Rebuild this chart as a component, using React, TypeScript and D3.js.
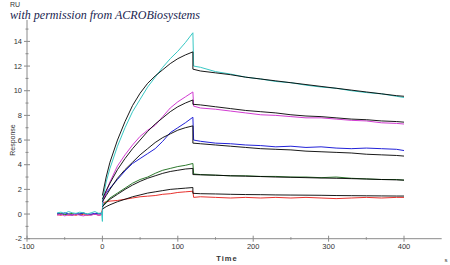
import React from "react";
import * as d3 from "d3";

const W = 450;
const H = 265;

// Time grids (s)
const baseTimes = [-60, -55, -50, -45, -40, -35, -30, -25, -20, -15, -10, -5, -1, 0];
const assocTimes = [0.5, 5, 10, 20, 30, 40, 50, 60, 70, 80, 90, 100, 110, 120];
const dissocTimes = [121, 130, 150, 170, 190, 210, 230, 250, 270, 290, 310, 330, 350, 370, 390, 400];

// Raw sensorgram values (RU)
const cyanBase = [0.1, 0.15, 0.05, 0.2, 0.1, 0.05, 0.15, 0.1, 0.0, 0.1, 0.2, 0.05, 0.1, -0.6];
const cyanAssoc = [1.2, 2.6, 3.7, 5.5, 7.0, 8.3, 9.3, 10.3, 11.1, 11.9, 12.6, 13.2, 13.9, 14.7];
const cyanDissoc = [12.0, 11.9, 11.55, 11.35, 11.1, 10.95, 10.75, 10.65, 10.45, 10.3, 10.2, 10.0, 9.85, 9.75, 9.55, 9.45];

const magentaBase = [-0.1, 0.0, -0.15, -0.05, -0.1, 0.0, -0.1, -0.15, -0.05, -0.1, 0.0, -0.1, -0.05, 0.2];
const magentaAssoc = [1.0, 1.8, 2.6, 3.9, 4.8, 5.6, 6.3, 6.8, 7.2, 7.9, 8.6, 9.1, 9.5, 9.9];
const magentaDissoc = [8.75, 8.6, 8.5, 8.35, 8.2, 8.05, 8.0, 7.9, 7.8, 7.8, 7.7, 7.6, 7.55, 7.4, 7.35, 7.3];

const blueBase = [0.05, -0.05, 0.1, 0.0, -0.1, 0.05, 0.0, 0.1, -0.05, 0.0, 0.05, 0.0, 0.05, 0.1];
const blueAssoc = [1.1, 1.7, 2.1, 2.8, 3.5, 4.1, 4.5, 4.9, 5.3, 5.9, 6.6, 7.0, 7.4, 7.85];
const blueDissoc = [6.0, 5.9, 5.75, 5.7, 5.6, 5.55, 5.45, 5.5, 5.4, 5.45, 5.35, 5.3, 5.35, 5.3, 5.25, 5.15];

const greenBase = [0.0, 0.05, -0.05, 0.0, 0.05, -0.05, 0.0, 0.05, 0.0, -0.05, 0.0, 0.05, 0.0, 0.3];
const greenAssoc = [0.7, 1.0, 1.3, 1.7, 2.1, 2.5, 2.8, 3.0, 3.3, 3.55, 3.7, 3.85, 3.95, 4.1];
const greenDissoc = [3.25, 3.2, 3.15, 3.1, 3.1, 3.05, 3.05, 3.0, 3.0, 2.95, 3.0, 2.9, 2.85, 2.8, 2.8, 2.75];

const redBase = [-0.05, -0.1, 0.0, -0.1, -0.05, -0.1, 0.0, -0.05, -0.1, -0.05, 0.0, -0.1, -0.05, 0.4];
const redAssoc = [0.9, 1.0, 1.05, 1.1, 1.2, 1.3, 1.4, 1.45, 1.5, 1.6, 1.65, 1.75, 1.8, 1.85];
const redDissoc = [1.35, 1.4, 1.35, 1.3, 1.35, 1.3, 1.35, 1.3, 1.35, 1.3, 1.25, 1.3, 1.35, 1.3, 1.35, 1.35];

// Fitted curves (RU)
const fitAssocTimes = [0, 5, 10, 20, 30, 40, 50, 60, 70, 80, 90, 100, 110, 120];
const fitDissocTimes = [120, 130, 150, 170, 190, 210, 230, 250, 270, 290, 310, 330, 350, 370, 390, 400];

const fit1Assoc = [1.5, 3.0, 4.2, 6.0, 7.5, 8.8, 9.8, 10.6, 11.2, 11.7, 12.2, 12.6, 12.9, 13.15];
const fit1Dissoc = [11.75, 11.6, 11.45, 11.3, 11.1, 10.95, 10.8, 10.65, 10.5, 10.35, 10.2, 10.05, 9.9, 9.75, 9.6, 9.55];
const fit2Assoc = [1.2, 1.9, 2.5, 3.6, 4.5, 5.3, 6.0, 6.7, 7.3, 7.8, 8.3, 8.7, 9.0, 9.25];
const fit2Dissoc = [8.9, 8.85, 8.7, 8.55, 8.4, 8.3, 8.2, 8.05, 7.95, 7.9, 7.8, 7.7, 7.65, 7.55, 7.5, 7.45];
const fit3Assoc = [1.0, 1.5, 2.0, 2.9, 3.6, 4.2, 4.8, 5.3, 5.8, 6.2, 6.5, 6.8, 7.0, 7.15];
const fit3Dissoc = [5.75, 5.7, 5.6, 5.5, 5.4, 5.3, 5.25, 5.2, 5.1, 5.05, 5.0, 4.95, 4.85, 4.8, 4.75, 4.7];
const fit4Assoc = [0.6, 0.9, 1.2, 1.6, 2.0, 2.35, 2.65, 2.9, 3.1, 3.3, 3.45, 3.55, 3.65, 3.7];
const fit4Dissoc = [3.2, 3.18, 3.15, 3.1, 3.07, 3.04, 3.0, 2.98, 2.95, 2.92, 2.9, 2.87, 2.84, 2.8, 2.77, 2.75];
const fit5Assoc = [0.4, 0.6, 0.75, 1.0, 1.2, 1.4, 1.55, 1.7, 1.8, 1.9, 2.0, 2.05, 2.1, 2.15];
const fit5Dissoc = [1.68, 1.65, 1.63, 1.6, 1.58, 1.57, 1.55, 1.54, 1.53, 1.52, 1.5, 1.49, 1.48, 1.47, 1.46, 1.46];

const yTicks = [-2, 0, 2, 4, 6, 8, 10, 12, 14];
const yMinor = [-1, 1, 3, 5, 7, 9, 11, 13, 15];
const xTicks = [-100, 0, 100, 200, 300, 400];
const xMinor = [-50, 50, 150, 250, 350];

const rawSeries = [
  { color: "#e8322e", base: redBase, assoc: redAssoc, dissoc: redDissoc },
  { color: "#2e7a2e", base: greenBase, assoc: greenAssoc, dissoc: greenDissoc },
  { color: "#2222d8", base: blueBase, assoc: blueAssoc, dissoc: blueDissoc },
  { color: "#d23cd2", base: magentaBase, assoc: magentaAssoc, dissoc: magentaDissoc },
  { color: "#38c8c4", base: cyanBase, assoc: cyanAssoc, dissoc: cyanDissoc },
];
const fitSeries = [
  { assoc: fit1Assoc, dissoc: fit1Dissoc },
  { assoc: fit2Assoc, dissoc: fit2Dissoc },
  { assoc: fit3Assoc, dissoc: fit3Dissoc },
  { assoc: fit4Assoc, dissoc: fit4Dissoc },
  { assoc: fit5Assoc, dissoc: fit5Dissoc },
];

export default function App() {
  const x = d3.scaleLinear().domain([-100, 450]).range([27, 441.7]);
  const y = d3.scaleLinear().domain([-2, 14]).range([238.7, 41.4]);
  const line = d3
    .line<[number, number]>()
    .x((d) => x(d[0]))
    .y((d) => y(d[1]));

  const zip = (ts: number[], vs: number[]) => ts.map((t, i) => [t, vs[i]] as [number, number]);

  const axisColor = "#8a8a8a";
  const font = "Liberation Sans, Arial, sans-serif";

  return (
    <svg
      width={W}
      height={H}
      style={{ position: "absolute", left: 0, top: 0, background: "#fff" }}
    >
      {/* axes */}
      <line x1={x(-100)} x2={x(-100)} y1={20} y2={y(-2)} stroke={axisColor} strokeWidth={1} />
      <line x1={x(-100)} x2={x(450)} y1={y(-2)} y2={y(-2)} stroke={axisColor} strokeWidth={1} />
      {yTicks.map((v) => (
        <g key={"yt" + v}>
          <line x1={x(-100) - 3} x2={x(-100) + 3} y1={y(v)} y2={y(v)} stroke={axisColor} />
          <text x={x(-100) - 5} y={y(v) + 2.5} fontSize={7.5} fontFamily={font} textAnchor="end" fill="#333">
            {v}
          </text>
        </g>
      ))}
      {yMinor.map((v) => (
        <line key={"ym" + v} x1={x(-100) - 1.5} x2={x(-100) + 1.5} y1={y(v)} y2={y(v)} stroke={axisColor} />
      ))}
      {xTicks.map((v) => (
        <g key={"xt" + v}>
          <line x1={x(v)} x2={x(v)} y1={y(-2) - 3} y2={y(-2) + 3} stroke={axisColor} />
          <text x={x(v)} y={y(-2) + 10} fontSize={7.5} fontFamily={font} textAnchor="middle" fill="#333">
            {v}
          </text>
        </g>
      ))}
      {xMinor.map((v) => (
        <line key={"xm" + v} x1={x(v)} x2={x(v)} y1={y(-2) - 1.5} y2={y(-2) + 1} stroke={axisColor} />
      ))}
      <text x={227} y={261} fontSize={7.5} fontFamily={font} fontWeight="bold" textAnchor="middle" fill="#333" letterSpacing={1}>
        Time
      </text>
      <text x={446} y={262} fontSize={6} fontFamily={font} textAnchor="middle" fill="#333">
        s
      </text>
      <text x={10} y={6.5} fontSize={7} fontFamily={font} fill="#333">
        RU
      </text>
      <text
        transform={`translate(15,${y(6)}) rotate(-90)`}
        fontSize={7}
        fontFamily={font}
        textAnchor="middle"
        fill="#333"
      >
        Response
      </text>

      {/* raw curves */}
      {rawSeries.map((s, i) => (
        <path
          key={"raw" + i}
          d={line([...zip(baseTimes, s.base), ...zip(assocTimes, s.assoc), ...zip(dissocTimes, s.dissoc)]) || ""}
          fill="none"
          stroke={s.color}
          strokeWidth={1}
        />
      ))}
      {/* fits */}
      {fitSeries.map((s, i) => (
        <path
          key={"fit" + i}
          d={line([...zip(fitAssocTimes, s.assoc), ...zip(fitDissocTimes, s.dissoc)]) || ""}
          fill="none"
          stroke="#000"
          strokeWidth={0.9}
        />
      ))}

      {/* watermark */}
      <text
        x={10}
        y={19}
        fontSize={13}
        fontFamily="Liberation Serif, DejaVu Serif, serif"
        fontStyle="italic"
        fill="#1a2550"
        textLength={190}
        lengthAdjust="spacingAndGlyphs"
      >
        with permission from ACROBiosystems
      </text>
    </svg>
  );
}
